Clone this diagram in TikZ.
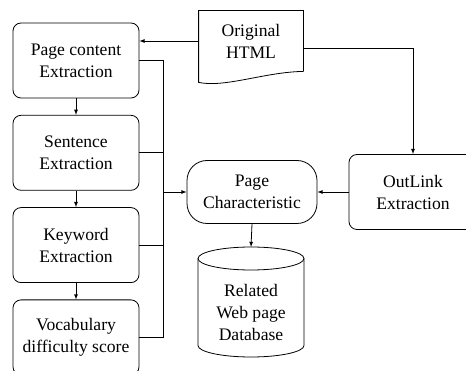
\documentclass[tikz,border=0pt]{standalone}
\usepackage{fontspec}
\setmainfont{Liberation Serif}
\usepackage{tikz}
\usetikzlibrary{positioning}

\begin{document}
\begin{tikzpicture}[>=latex, x=1pt, y=-1pt,
                    every node/.style={align=center, font=\fontsize{17.6}{22}\selectfont},
                    stepbox/.style={draw, rounded corners=8pt, minimum width=126pt,
                                    minimum height=75pt},
                    every path/.style={line width=0.8pt}]
\useasboundingbox (0,0) rectangle (466,371);
\node[stepbox] (pce) at (76,60.5) {Page content\\Extraction};
\node[stepbox, below=16.5pt of pce] (se) {Sentence\\Extraction};
\node[stepbox, below=16.5pt of se] (kw) {Keyword\\Extraction};
\node[stepbox, below=16.5pt of kw] (vds) {Vocabulary\\difficulty score};
\node[minimum width=104pt, minimum height=60pt] (html) at (251,41) {Original\\HTML};
\node[stepbox, minimum width=128pt] (ol) at (413,192) {OutLink\\Extraction};
\node[draw, rounded corners=20pt, minimum width=130pt, minimum height=63pt] (pc)
     at (252,192) {Page\\Characteristic};
\node (db) at (251,312) {Related\\Web page\\Database};
\coordinate (dbtop) at (251,247);
\coordinate (bus) at (163,192);
% document shape
\draw (html.south east) -- (html.north east) -- (html.north west)
      -- ([yshift=-11pt]html.south west)
      .. controls (225,88) and (265,72) .. (html.south east);
% database cylinder
\draw (251,258.5) ellipse [x radius=53pt, y radius=11.5pt];
\draw (198,258.5) -- (198,345.5)
      arc [start angle=180, end angle=360, x radius=53pt, y radius=11.5pt]
      -- (304,258.5);
\draw[->] (html.west) -- (pce.east |- html.west);
\draw[->] ([yshift=-7pt]html.east) -| (ol.north);
\draw[->] (pce) -- (se);
\draw[->] (se) -- (kw);
\draw[->] (kw) -- (vds);
\draw (pce.east) -| (vds.east -| bus) -- (vds.east);
\draw (se.east) -- (se.east -| bus);
\draw (kw.east) -- (kw.east -| bus);
\draw[->] (bus) -- (pc.west);
\draw[->] (ol.west) -- (pc.east);
\draw[->] (pc.south) -- (dbtop);
\end{tikzpicture}
\end{document}
